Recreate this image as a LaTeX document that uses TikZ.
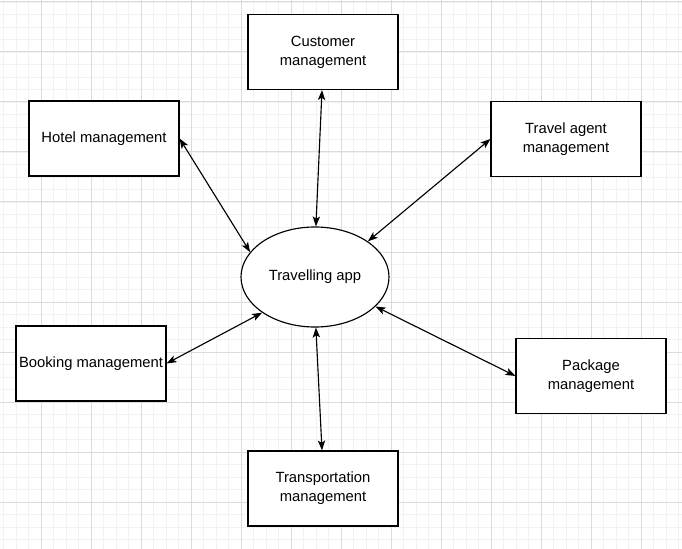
\documentclass[tikz,border=0pt]{standalone}
\usepackage{fontspec}
\setmainfont{Liberation Sans}
\usetikzlibrary{shapes.geometric}
\usetikzlibrary{arrows.meta}

\tikzset{
  minorgrid/.style={draw=black!5, line width=0.7pt},
  majorgrid/.style={draw=black!14, line width=0.75pt},
  module/.style={draw, line width=0.85pt, fill=white, minimum width=112.5pt,
    minimum height=56.25pt, align=center, inner sep=1pt,
    font=\fontsize{11.1}{14.4}\selectfont},
  hub/.style={draw, ellipse, line width=0.85pt, fill=white, minimum width=111pt,
    minimum height=75pt, inner sep=0pt, font=\fontsize{11.1}{14.4}\selectfont},
  link/.style={<->, line width=0.85pt}
}

\begin{document}
\begin{tikzpicture}[x=0.75pt, y=-0.75pt, >={Stealth[length=7.5pt, width=5.5pt, inset=1.8pt]}]
  \useasboundingbox (0,0) rectangle (682,549);
  \fill[white] (0,0) rectangle (682,549);

  \foreach \x in {3.5,16,...,682} \draw[minorgrid] (\x,0) -- (\x,549);
  \foreach \y in {2,14.5,...,549} \draw[minorgrid] (0,\y) -- (682,\y);
  \foreach \x in {41,91,...,682} \draw[majorgrid] (\x,0) -- (\x,549);
  \foreach \y in {2,52,...,549} \draw[majorgrid] (0,\y) -- (682,\y);

  \node[hub] (app) at (315,277) {Travelling app};

  \node[module] (cust)      at (323,52)    {Customer\\management};
  \node[module] (hotel)     at (104,138.5) {Hotel management};
  \node[module] (agent)     at (566,139)   {Travel agent\\management};
  \node[module] (booking)   at (91,363.5)  {Booking management};
  \node[module] (pack)      at (591,376)   {Package\\management};
  \node[module] (transport) at (323,488.5) {Transportation\\management};

  \draw[link] ([xshift=-0.75pt]cust.south) -- (app.89);
  \draw[link] (hotel.east) -- (app.159);
  \draw[link] (agent.west) -- (app.34);
  \draw[link] (booking.east) -- (app.214);
  \draw[link] (pack.west) -- (app.334);
  \draw[link] ([xshift=-0.75pt]transport.north) -- (app.271);
\end{tikzpicture}
\end{document}
